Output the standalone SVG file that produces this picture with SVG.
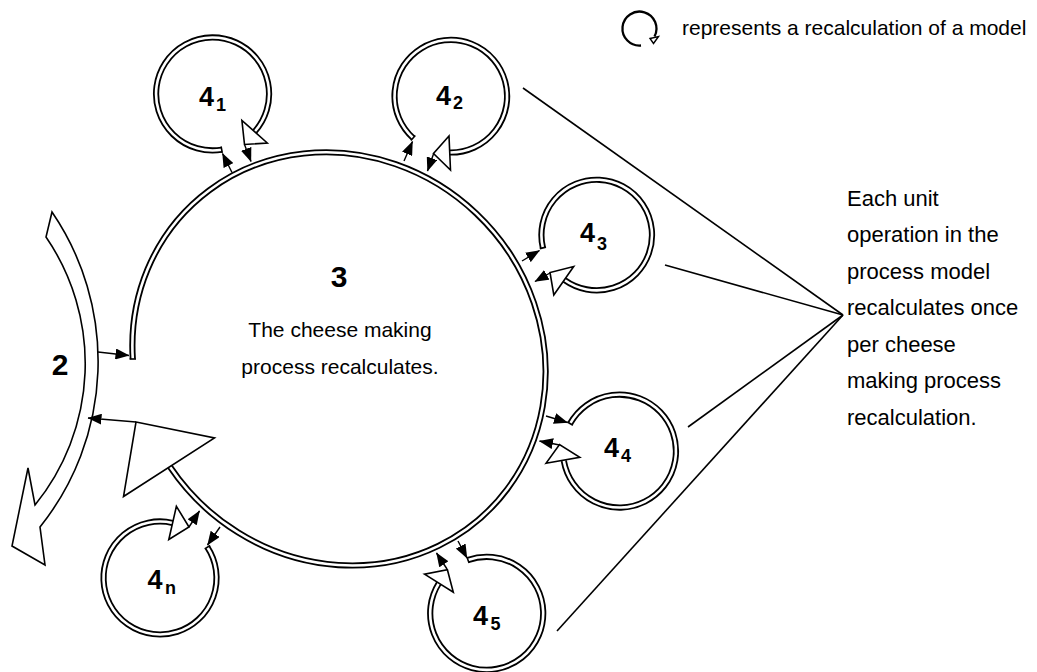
<svg xmlns="http://www.w3.org/2000/svg" xmlns:xlink="http://www.w3.org/1999/xlink" width="1037" height="672" viewBox="0 0 1037 672">
<style>
.db{fill:none;stroke:#000;stroke-width:6.2}
.dw{fill:none;stroke:#fff;stroke-width:2.6}
.cap{stroke:#000;stroke-width:1.6}
.head{fill:#fff;stroke:#000;stroke-width:1.6;stroke-linejoin:miter}
.arr{stroke:#000;stroke-width:1.4;fill:none;marker-end:url(#ah)}
.thin{stroke:#000;stroke-width:1.6;fill:none}
.num{font-family:"Liberation Sans",Arial,sans-serif;font-weight:bold;fill:#000}
.txt{font-family:"Liberation Sans",Arial,sans-serif;font-size:21px;fill:#000}
</style>
<defs>
<marker id="ah" markerWidth="14" markerHeight="11" refX="13.5" refY="5.5" orient="auto" markerUnits="userSpaceOnUse"><path d="M0,0 L14,5.5 L0,11 z" fill="#000"/></marker>
<path id="pmain" d="M132.8,359 A213,200 45 1,1 169.8,466.6"/>
<path id="p41" d="M221.7,149.7 A56.5,56.5 0 1,1 254.6,131.7"/>
<path id="p42" d="M413.1,138 A56.3,56.3 0 1,1 450,152.5"/>
<path id="p43" d="M542.9,247.8 A55.3,55.3 0 1,1 564.5,280"/>
<path id="p44" d="M570.1,423.6 A56.5,56.5 0 1,1 563.8,460.7"/>
<path id="p45" d="M468,560 A56.5,56.5 0 1,1 438.9,583.2"/>
<path id="p4n" d="M207.4,547.2 A56.5,56.5 0 1,1 172.6,522.9"/>
</defs>
<rect width="1037" height="672" fill="#fff"/>

<g id="node-2">
<path class="head" d="M52,212 A265,265 0 0,1 40,527 L45,565 L12,546 L28,468 L35,505 A224,224 0 0,0 46,237 Z"/>
<text class="num" x="60" y="375" font-size="30" text-anchor="middle">2</text>
</g>

<g id="node-3">
<use xlink:href="#pmain" class="db"/>
<use xlink:href="#pmain" class="dw"/>
<line class="cap" x1="129.6" y1="359" x2="136" y2="359"/>
<polygon class="head" points="136,422 214.5,438 123.5,496.5"/>
<text class="num" x="339" y="287" font-size="30" text-anchor="middle">3</text>
<text class="txt" x="340" y="337" text-anchor="middle">The cheese making</text>
<text class="txt" x="340" y="373.5" text-anchor="middle">process recalculates.</text>
</g>

<g id="node-4-1">
<use xlink:href="#p41" class="db"/>
<use xlink:href="#p41" class="dw"/>
<line class="cap" x1="221.1" y1="146.5" x2="222.3" y2="152.9"/>
<polygon class="head" points="267.3,143 241.9,120.4 244.5,144.5"/>
<text class="num" x="199" y="106" font-size="27">4<tspan x="216" y="110.5" font-size="18">1</tspan></text>
</g>

<g id="node-4-2">
<use xlink:href="#p42" class="db"/>
<use xlink:href="#p42" class="dw"/>
<line class="cap" x1="415.3" y1="135.4" x2="410.9" y2="140.6"/>
<polygon class="head" points="449,136 450.5,170 433.5,153.5"/>
<text class="num" x="436" y="105" font-size="27">4<tspan x="453" y="109" font-size="18">2</tspan></text>
</g>

<g id="node-4-3">
<use xlink:href="#p43" class="db"/>
<use xlink:href="#p43" class="dw"/>
<line class="cap" x1="539.8" y1="248.6" x2="546" y2="247.1"/>
<polygon class="head" points="553.8,295 573.7,266.5 550,272.5"/>
<text class="num" x="580" y="242" font-size="27">4<tspan x="597" y="249.5" font-size="18">3</tspan></text>
</g>

<g id="node-4-4">
<use xlink:href="#p44" class="db"/>
<use xlink:href="#p44" class="dw"/>
<line class="cap" x1="567.4" y1="422" x2="572.9" y2="425.2"/>
<polygon class="head" points="546,463.3 579.8,457.4 559.5,444.5"/>
<text class="num" x="604" y="457" font-size="27">4<tspan x="621" y="461.5" font-size="18">4</tspan></text>
</g>

<g id="node-4-5">
<use xlink:href="#p45" class="db"/>
<use xlink:href="#p45" class="dw"/>
<line class="cap" x1="466.9" y1="557" x2="469.1" y2="563"/>
<polygon class="head" points="424.5,574.1 453.3,592.3 447.4,569.7"/>
<text class="num" x="473" y="625" font-size="27">4<tspan x="490.5" y="629.5" font-size="18">5</tspan></text>
</g>

<g id="node-4-n">
<use xlink:href="#p4n" class="db"/>
<use xlink:href="#p4n" class="dw"/>
<line class="cap" x1="210.1" y1="545.5" x2="204.7" y2="548.9"/>
<polygon class="head" points="176.4,506.3 168.8,539.5 189,527"/>
<text class="num" x="147.5" y="589" font-size="27">4<tspan x="165" y="593.5" font-size="18">n</tspan></text>
</g>

<g id="legend">
<path class="thin" style="stroke-width:2.3" d="M641,45.5 A17,17 0 1,1 654.5,36.5"/>
<polygon class="head" points="650,38.5 658.5,36.5 653.5,43.5" style="stroke-width:1.4"/>
<text class="txt" x="682" y="35">represents a recalculation of a model</text>
</g>

<g id="note">
<text class="txt" style="font-size:22px">
<tspan x="847" y="205.5">Each unit</tspan>
<tspan x="847" y="242">operation in the</tspan>
<tspan x="847" y="278.5">process model</tspan>
<tspan x="847" y="315">recalculates once</tspan>
<tspan x="847" y="351.5">per cheese</tspan>
<tspan x="847" y="388">making process</tspan>
<tspan x="847" y="424.5">recalculation.</tspan>
</text>
</g>

<g id="connectors">
<line class="arr" x1="98" y1="352" x2="129" y2="355.5"/>
<line class="arr" x1="136" y1="422" x2="88" y2="418"/>
<line class="arr" x1="232" y1="172.5" x2="222.5" y2="153.5"/>
<line class="arr" x1="244.5" y1="144.5" x2="251" y2="161.5"/>
<line class="arr" x1="404" y1="161" x2="412.5" y2="141.5"/>
<line class="arr" x1="433.5" y1="154" x2="427.5" y2="171"/>
<line class="arr" x1="522" y1="261" x2="539.5" y2="250.5"/>
<line class="arr" x1="550" y1="273" x2="535" y2="281.5"/>
<line class="arr" x1="546" y1="416" x2="567.5" y2="422.5"/>
<line class="arr" x1="559.5" y1="445" x2="539.5" y2="441"/>
<line class="arr" x1="458" y1="541" x2="467" y2="558"/>
<line class="arr" x1="447" y1="569" x2="436.5" y2="553"/>
<line class="arr" x1="220" y1="527" x2="207.5" y2="545"/>
<line class="arr" x1="189" y1="527" x2="199.5" y2="511"/>
<line class="thin" x1="523" y1="88" x2="843" y2="315"/>
<line class="thin" x1="665" y1="265" x2="843" y2="315"/>
<line class="thin" x1="688" y1="427" x2="843" y2="315"/>
<line class="thin" x1="557" y1="631" x2="843" y2="315"/>
</g>
</svg>
